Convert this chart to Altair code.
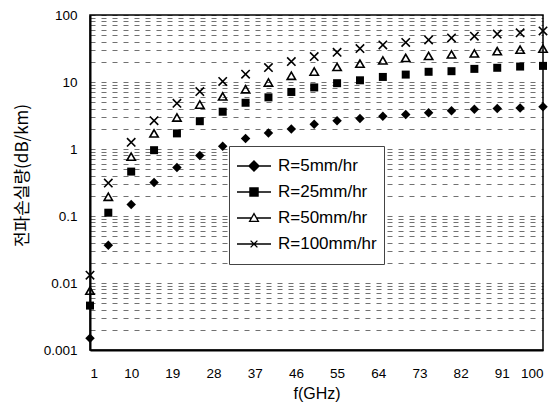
import altair as alt
import pandas as pd

# ---- data ----
freq = [1, 5, 10, 15, 20, 25, 30, 35, 40, 45, 50, 55, 60, 65, 70, 75, 80, 85, 90, 95, 100]
r5 = [0.0015, 0.0365, 0.149, 0.316, 0.53, 0.80, 1.1, 1.43, 1.74, 1.99, 2.35, 2.63, 2.86,
      3.09, 3.28, 3.48, 3.73, 3.92, 4.02, 4.09, 4.27]
r25 = [0.0046, 0.112, 0.46, 0.96, 1.71, 2.6, 3.6, 4.9, 5.9, 7.1, 8.3, 9.6, 10.6,
       11.9, 12.9, 14.2, 14.5, 15.7, 16.3, 17.0, 17.4]
r50 = [0.0077, 0.194, 0.77, 1.71, 2.95, 4.6, 6.1, 7.8, 9.8, 12.4, 14.3, 16.8, 18.8,
       21.0, 22.9, 24.5, 25.8, 26.7, 28.9, 30.4, 31.5]
r100 = [0.0131, 0.31, 1.26, 2.65, 4.8, 7.2, 10.2, 13.1, 16.4, 20.2, 24.0, 27.7, 31.5,
        35.8, 39.0, 42.5, 45.5, 48.2, 52.0, 54.3, 57.8]
series_names = ["R=5mm/hr", "R=25mm/hr", "R=50mm/hr", "R=100mm/hr"]
x_ticks = [1, 10, 19, 28, 37, 46, 55, 64, 73, 82, 91, 100]
y_ticks = [m * 10.0 ** e for e in range(-3, 2) for m in range(1, 10)] + [100]

rows = []
for name, vals in zip(series_names, [r5, r25, r50, r100]):
    for f, v in zip(freq, vals):
        rows.append({"f": f, "loss": v, "series": name})
df = pd.DataFrame(rows)

FONT = "Liberation Sans"
KFONT = "Noto Sans CJK KR"

x_enc = alt.X(
    "f:Q",
    scale=alt.Scale(domain=[1, 100], nice=False, zero=False),
    axis=alt.Axis(
        values=x_ticks, grid=False, ticks=False, tickSize=0, labelPadding=16,
        labelFontSize=13.5, labelFont=FONT, labelColor="black",
        domainColor="black", domainWidth=2,
        title="f(GHz)", titleFont=FONT, titleFontSize=16, titleFontWeight="normal",
        titleColor="black", titleY=43, titleBaseline="middle",
    ),
)
y_enc = alt.Y(
    "loss:Q",
    scale=alt.Scale(type="log", domain=[0.001, 100], nice=False),
    axis=alt.Axis(
        values=y_ticks, grid=True, gridColor="black", gridDash=[5, 6], gridWidth=0.7,
        gridOpacity=0.8,
        ticks=False, tickSize=0, labelPadding=13,
        labelExpr="abs(log(datum.value)/LN10 - round(log(datum.value)/LN10)) < 1e-6 ? datum.label : ''",
        format="~g",
        labelFontSize=13.5, labelFont=FONT, labelColor="black",
        domainColor="black", domainWidth=2,
        title="전파손실량(dB/km)", titleFont=KFONT, titleFontSize=17,
        titleFontWeight="normal", titleColor="black",
        titleX=-68, titleY=160, titleBaseline="middle", titleAngle=270,
    ),
)

x_path = "M-1,-1L1,1M-1,1L1,-1"
marker_specs = [
    ("R=5mm/hr", dict(shape="diamond", size=90, filled=True, color="black")),
    ("R=25mm/hr", dict(shape="square", size=64, filled=True, color="black")),
    ("R=50mm/hr", dict(shape="triangle-up", size=70, filled=False, color="black", strokeWidth=1.6)),
    ("R=100mm/hr", dict(shape=x_path, size=70, filled=False, color="black", strokeWidth=1.6)),
]

layers = []
for name, spec in marker_specs:
    layers.append(
        alt.Chart(df)
        .transform_filter(alt.datum.series == name)
        .mark_point(opacity=1, **spec)
        .encode(x=x_enc, y=y_enc)
    )

legend_paths = [
    "M-1,0H1M0,-0.3L0.3,0L0,0.3L-0.3,0Z",
    "M-1,0H1M-0.24,-0.24H0.24V0.24H-0.24Z",
    "M-1,0H-0.14M0.14,0H1M0,-0.26L0.26,0.2L-0.26,0.2Z",
    "M-1,0H1M-0.2,-0.2L0.2,0.2M-0.2,0.2L0.2,-0.2",
]
legend_fill = ["black", "black", "white", "black"]
legend_stroke = ["black", "black", "black", "black"]

leg = alt.Legend(
    title=None, orient="none", legendX=139, legendY=131,
    labelFont=FONT, labelFontSize=17, labelColor="black", labelOffset=6,
    symbolSize=1156, symbolStrokeColor="black", symbolStrokeWidth=1.3,
    symbolOpacity=1, fillColor="white", strokeColor="#444",
    padding=7, rowPadding=0, clipHeight=26,
)

legend_layer = (
    alt.Chart(df)
    .mark_point(opacity=0, size=1156, filled=True, strokeWidth=1.3)
    .encode(
        x=x_enc, y=y_enc,
        shape=alt.Shape("series:N", scale=alt.Scale(domain=series_names, range=legend_paths), legend=leg),
        fill=alt.Fill("series:N", scale=alt.Scale(domain=series_names, range=legend_fill), legend=leg),
        stroke=alt.Stroke("series:N", scale=alt.Scale(domain=series_names, range=legend_stroke), legend=leg),
    )
)

chart = (
    alt.layer(*layers, legend_layer)
    .properties(
        width=453, height=335,
        autosize=alt.AutoSizeParams(type="none"),
        padding={"left": 90, "top": 15, "right": 12, "bottom": 62},
        background="white",
    )
    .configure_view(stroke="black", strokeWidth=1.5)
)

chart.save("out.html", embed_options={"renderer": "svg", "actions": False})
